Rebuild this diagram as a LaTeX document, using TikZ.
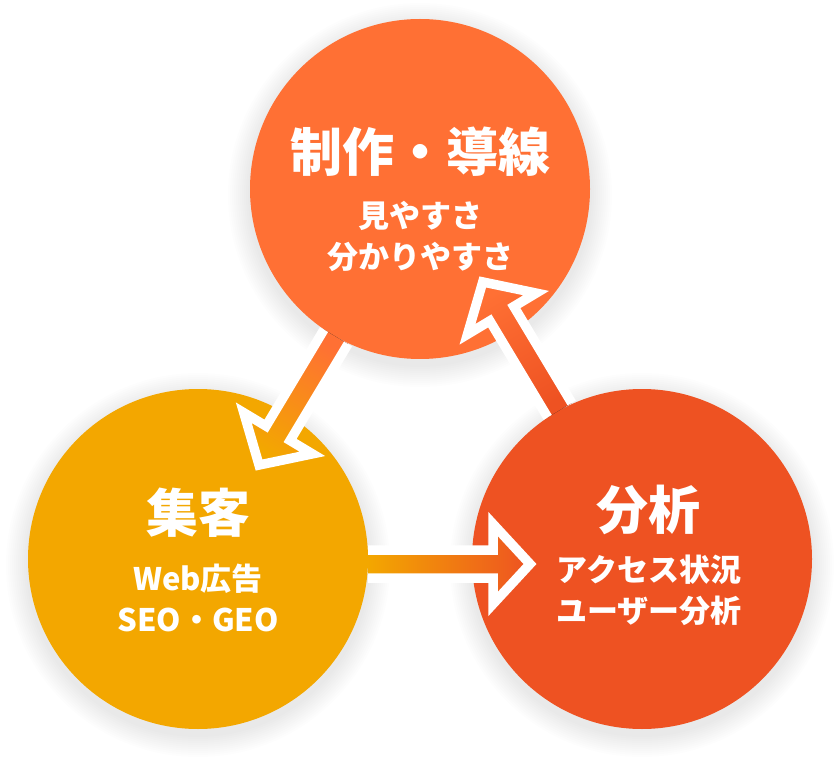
\documentclass[tikz,border=0pt]{standalone}
\usepackage{fontspec}
\newfontfamily\jpfont{Noto Sans CJK JP}
\usetikzlibrary{calc}
\definecolor{makeorange}{HTML}{FF7034}
\definecolor{attractyellow}{HTML}{F3A700}
\definecolor{analyzered}{HTML}{EE5222}
% arrow from circle #1 to circle #2, colours #3 -> #4, shading angle #5, side shift #6
\newcommand{\cyclearrow}[6]{
    \coordinate (s) at ($(#1)!#6!-90:(#2)$);
    \coordinate (d) at ($(#2)!#6!90:(#1)$);
    \coordinate (t) at ($(s)!170pt!(d)$);
    \coordinate (p) at ($(d)!112pt!(s)$);
    \coordinate (b) at ($(p)!37pt!(t)$);
    \fill[bottom color=#3, top color=#4, shading angle=#5]
        ($(t)!14pt!90:(p)$) -- ($(b)!14pt!-90:(t)$) -- ($(b)!40pt!-90:(t)$) -- (p)
        -- ($(b)!40pt!90:(t)$) -- ($(b)!14pt!90:(t)$) -- ($(t)!14pt!-90:(p)$) -- cycle;
    \draw[outline]
        ($(t)!14pt!90:(p)$) -- ($(b)!14pt!-90:(t)$) -- ($(b)!40pt!-90:(t)$) -- (p)
        -- ($(b)!40pt!90:(t)$) -- ($(b)!14pt!90:(t)$) -- ($(t)!14pt!-90:(p)$);
}
\begin{document}
\begin{tikzpicture}[x=1pt, y=1pt,
    bubble/.style={circle, minimum size=340pt, inner sep=0pt},
    outline/.style={white, line width=9.5pt, line join=miter},
    headline/.style={text=white, inner sep=0pt, font=\jpfont\bfseries\fontsize{52}{60}\selectfont},
    subline/.style={text=white, inner sep=0pt, align=center, font=\jpfont\bfseries\fontsize{31}{41}\selectfont}]
    \useasboundingbox (0,0) rectangle (840,764);
    % soft shadows
    \foreach \c in {(420,575),(198,205),(642,205)} {
        \foreach \r in {2,4,...,22} {
            \fill[black, opacity=0.008] \c ++(0,-6) circle (170+\r);
        }
    }
    \node[bubble, fill=makeorange] (make) at (420,575) {};
    \node[bubble, fill=attractyellow] (attract) at (198,205) {};
    \node[bubble, fill=analyzered] (analyze) at (642,205) {};
    % arrows
    \cyclearrow{make}{attract}{makeorange}{attractyellow}{149.04}{-4pt}
    \cyclearrow{attract}{analyze}{attractyellow}{analyzered}{-90}{5pt}
    \cyclearrow{analyze}{make}{analyzered}{makeorange}{30.96}{6pt}
    % texts
    \node[headline] (maketitle) at ([yshift=37pt]make.center) {制作・導線};
    \node[subline] (makesub) at ([yshift=-47pt]make.center) {見やすさ\\分かりやすさ};
    \node[headline] (attracttitle) at ([yshift=46pt]attract.center) {集客};
    \node[subline] (attractsub) at ([yshift=-39pt]attract.center) {Web広告\\SEO・GEO};
    \node[headline] (analyzetitle) at ([xshift=6pt, yshift=49pt]analyze.center) {分析};
    \node[subline] (analyzesub) at ([xshift=7pt, yshift=-31pt]analyze.center) {アクセス状況\\ユーザー分析};
\end{tikzpicture}
\end{document}
